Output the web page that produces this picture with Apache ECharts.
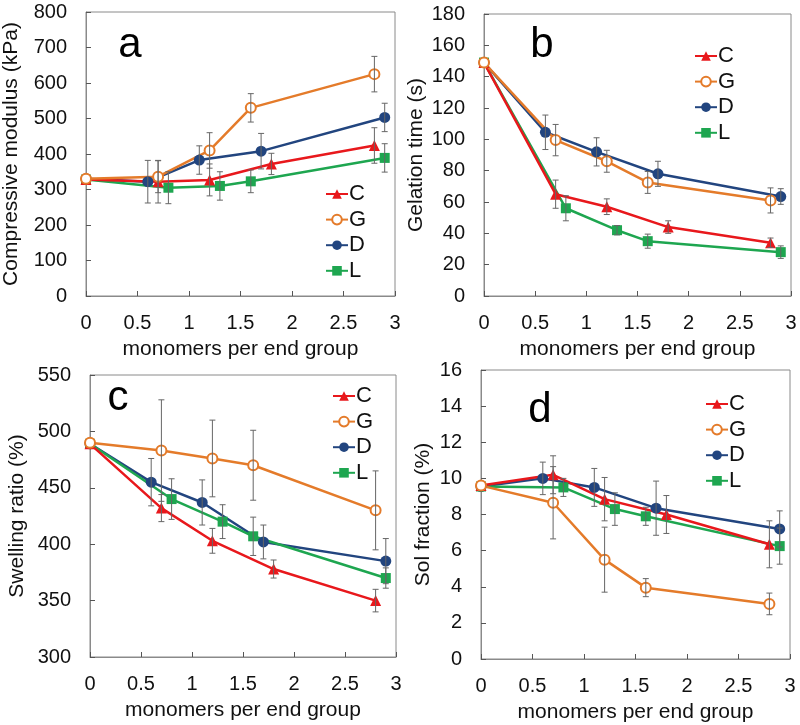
<!DOCTYPE html>
<html>
<head>
<meta charset="utf-8">
<script src="https://cdn.jsdelivr.net/npm/echarts@6/dist/echarts.min.js"></script>
<style>html,body{margin:0;padding:0;background:#fff}#c{width:800px;height:725px}</style>
</head>
<body>
<div id="c"></div>
<script>
// x positions (monomers per end group)
const xC = [0, 0.7, 1.2, 1.8, 2.8];
const xG = [0, 0.7, 1.2, 1.6, 2.8];
const xD = [0, 0.6, 1.1, 1.7, 2.9];
const xL = [0, 0.8, 1.3, 1.6, 2.9];

// panel a: compressive modulus (kPa)
const aC = [328, 322, 327, 372, 424];  const aCerr = [0, 60, 45, 30, 50];
const aG = [330, 336, 410, 530, 625];  const aGerr = [0, 45, 50, 40, 50];
const aD = [330, 322, 383, 408, 503];  const aDerr = [0, 60, 40, 50, 40];
const aL = [328, 305, 310, 323, 389];  const aLerr = [0, 45, 40, 32, 40];

// panel b: gelation time (s)
const bC = [149, 65, 57, 44, 34];       const bCerr = [0, 9, 5, 4, 3];
const bG = [149, 99.5, 86, 72.5, 61];   const bGerr = [0, 10, 7, 7, 8];
const bD = [149, 104.5, 92, 78, 63.5];  const bDerr = [0, 11, 9, 8, 5];
const bL = [149, 56, 42, 35, 28];       const bLerr = [0, 8, 3, 4.5, 4];

// panel c: swelling ratio (%)
const cC = [489, 432, 403, 378, 350];  const cCerr = [0, 12, 11, 8, 10];
const cG = [490, 483, 476, 470, 430];  const cGerr = [0, 45, 34, 31, 35];
const cD = [489, 455, 437, 402, 385];  const cDerr = [0, 21, 20, 15, 20];
const cL = [489, 440, 420, 407, 370];  const cLerr = [0, 18, 15, 17, 9];

// panel d: sol fraction (%)
const dC = [9.6, 10.2, 8.85, 8.0, 6.35];  const dCerr = [0, 1.05, 1.2, 1.05, 1.3];
const dG = [9.6, 8.65, 5.5, 3.95, 3.05];  const dGerr = [0, 2.0, 1.8, 0.5, 0.6];
const dD = [9.55, 10.0, 9.5, 8.35, 7.2];  const dDerr = [0, 0.9, 1.05, 1.5, 1.0];
const dL = [9.55, 9.5, 8.3, 7.9, 6.25];   const dLerr = [0, 0.5, 0.9, 0.5, 1.0];

const seriesNames = ['C', 'G', 'D', 'L'];
const panelLetters = ['a', 'b', 'c', 'd'];
const yNames = ['Compressive modulus (kPa)', 'Gelation time (s)', 'Swelling ratio (%)', 'Sol fraction (%)'];
const xName = 'monomers per end group';
const yMin = [0, 0, 300, 0];
const yMax = [800, 180, 550, 16];
const yStep = [100, 20, 50, 2];

const FONT = 'Liberation Sans, Arial, sans-serif';
const colors = { C: '#e8181c', G: '#e47b2a', D: '#22457f', L: '#1ea650' };
const symbols = { C: 'triangle', G: 'circle', D: 'circle', L: 'rect' };
const symSizes = { C: 11, G: 10, D: 11, L: 10 };

const xs = { C: xC, G: xG, D: xD, L: xL };
const panels = [
  { C: [aC, aCerr], G: [aG, aGerr], D: [aD, aDerr], L: [aL, aLerr] },
  { C: [bC, bCerr], G: [bG, bGerr], D: [bD, bDerr], L: [bL, bLerr] },
  { C: [cC, cCerr], G: [cG, cGerr], D: [cD, cDerr], L: [cL, cLerr] },
  { C: [dC, dCerr], G: [dG, dGerr], D: [dD, dDerr], L: [dL, dLerr] }
];

const grids = [
  { left: 86, top: 12, width: 309, height: 284 },
  { left: 484, top: 14, width: 307, height: 282 },
  { left: 90, top: 375, width: 306, height: 282 },
  { left: 481, top: 370, width: 309, height: 289 }
];
const yNameGaps = [64, 57, 62, 47];
const legendPos = [
  { left: 325, top: 183 },
  { left: 694, top: 45 },
  { left: 332, top: 385 },
  { left: 705, top: 393 }
];
const letterPos = [
  { x: 130, y: 45 }, { x: 542, y: 45 }, { x: 118, y: 398 }, { x: 540, y: 410 }
];

const axisColor = '#8a8a8a';
const option = {
  animation: false,
  backgroundColor: '#fff',
  grid: grids.map(g => Object.assign({ show: true, borderColor: axisColor, borderWidth: 1, backgroundColor: 'transparent' }, g)),
  xAxis: grids.map((g, i) => ({
    gridIndex: i, type: 'value', min: 0, max: 3, interval: 0.5,
    name: xName, nameLocation: 'middle', nameGap: 43,
    nameTextStyle: { fontSize: 21, color: '#111', fontFamily: FONT },
    axisLine: { show: true, onZero: false, lineStyle: { color: axisColor, width: 1 } },
    axisTick: { show: true, inside: true, length: 5, lineStyle: { color: '#555' } },
    axisLabel: { fontSize: 20, color: '#111', fontFamily: FONT, margin: 17 },
    splitLine: { show: false }
  })),
  yAxis: grids.map((g, i) => ({
    gridIndex: i, type: 'value', min: yMin[i], max: yMax[i], interval: yStep[i],
    name: yNames[i], nameLocation: 'middle', nameGap: yNameGaps[i],
    nameTextStyle: { fontSize: 21, color: '#111', fontFamily: FONT },
    axisLine: { show: true, onZero: false, lineStyle: { color: axisColor, width: 1 } },
    axisTick: { show: true, inside: true, length: 5, lineStyle: { color: '#555' } },
    axisLabel: { fontSize: 20, color: '#111', fontFamily: FONT, margin: 19 },
    splitLine: { show: false }
  })),
  legend: legendPos.map(p => ({
    data: seriesNames, orient: 'vertical', left: p.left, top: p.top, padding: 0,
    itemWidth: 22, itemHeight: 12, itemGap: 3.6, selectedMode: false,
    textStyle: { fontSize: 22, lineHeight: 22, color: '#111', fontFamily: FONT, padding: [0, 0, 0, -4] }
  })),
  graphic: letterPos.map((p, i) => ({
    type: 'text', x: p.x, y: p.y,
    style: { text: panelLetters[i], font: '42px ' + FONT, fill: '#000', align: 'center', verticalAlign: 'middle' }
  })),
  series: []
};

const drawOrder = ['D', 'L', 'C', 'G'];
panels.forEach((pan, pi) => {
  drawOrder.forEach(name => {
    const [vals, errs] = pan[name];
    const xv = xs[name];
    option.series.push({
      type: 'line', name: name, xAxisIndex: pi, yAxisIndex: pi,
      data: xv.map((x, k) => [x, vals[k]]),
      symbol: symbols[name], symbolSize: symSizes[name],
      lineStyle: { color: colors[name], width: 2.5 },
      itemStyle: name === 'G'
        ? { color: '#fff', borderColor: colors[name], borderWidth: 2 }
        : { color: colors[name], borderColor: colors[name], borderWidth: 0 },
      z: 3
    });
    option.series.push({
      type: 'custom', name: name + '_err', xAxisIndex: pi, yAxisIndex: pi,
      data: xv.map((x, k) => [x, vals[k], errs[k]]).filter(r => r[2] > 0),
      renderItem: function (params, api) {
        const x = api.value(0), y = api.value(1), e = api.value(2);
        const top = api.coord([x, y + e]);
        const bot = api.coord([x, y - e]);
        const c = 3;
        const st = { stroke: '#666', lineWidth: 1 };
        return {
          type: 'group', children: [
            { type: 'line', shape: { x1: top[0], y1: top[1], x2: bot[0], y2: bot[1] }, style: st },
            { type: 'line', shape: { x1: top[0] - c, y1: top[1], x2: top[0] + c, y2: top[1] }, style: st },
            { type: 'line', shape: { x1: bot[0] - c, y1: bot[1], x2: bot[0] + c, y2: bot[1] }, style: st }
          ]
        };
      },
      z: 4, silent: true
    });
  });
});

const chart = echarts.init(document.getElementById('c'), null, { renderer: 'canvas' });
chart.setOption(option);
</script>
</body>
</html>
